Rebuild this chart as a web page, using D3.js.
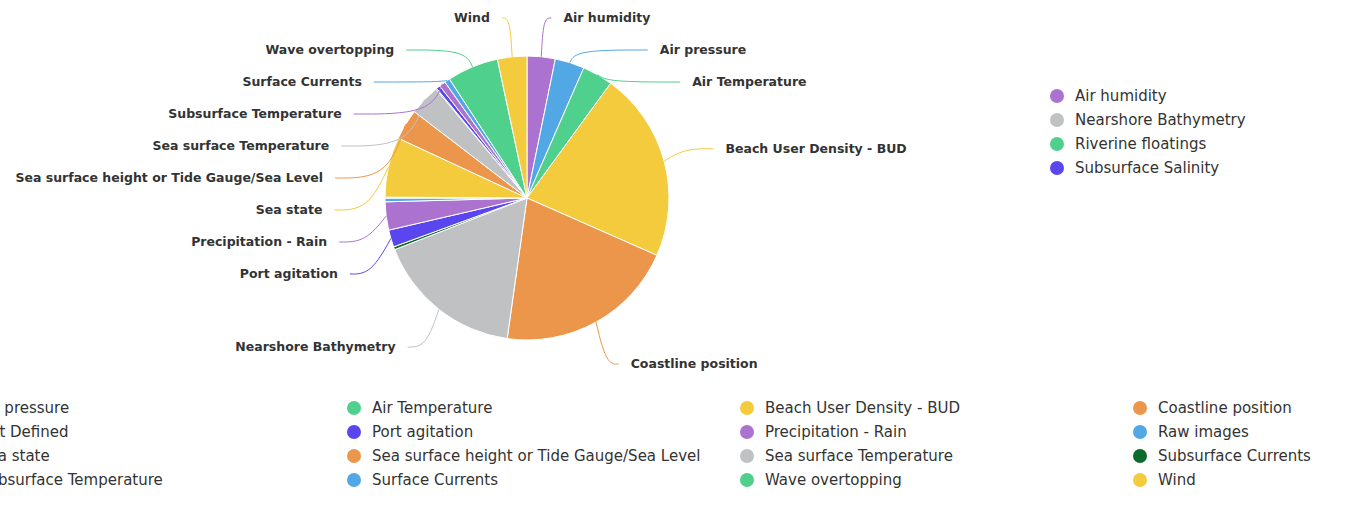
<!DOCTYPE html>
<html>
<head>
<meta charset="utf-8">
<script src="https://cdn.jsdelivr.net/npm/d3@7"></script>
<style>
  body { margin: 0; background: #fff; overflow: hidden; }
  text { font-family: "DejaVu Sans", sans-serif; }
</style>
</head>
<body>
<script>
// data (share of the pie, in degrees roughly)
const categories = [
  "Air humidity", "Air pressure", "Air Temperature", "Beach User Density - BUD", "Coastline position",
  "Nearshore Bathymetry", "Not Defined", "Port agitation", "Precipitation - Rain", "Raw images",
  "Riverine floatings", "Sea state", "Sea surface height or Tide Gauge/Sea Level", "Sea surface Temperature", "Subsurface Currents",
  "Subsurface Salinity", "Subsurface Temperature", "Surface Currents", "Wave overtopping", "Wind"
];
const values = [
  11.5, 12, 12.5, 77.5, 74,
  60.5, 1.2, 7, 11.5, 1.5,
  0.4, 24.5, 12.5, 12.6, 0.4,
  1.6, 2.6, 2.2, 21, 12
];
const palette = ["#ab72cf", "#52a7e5", "#4fd18d", "#f3cb3d", "#ec964b", "#bfc1c3", "#0b6a2c", "#5a46ee"];
// slices whose label is not drawn on the pie
const hiddenLabels = ["Not Defined", "Raw images", "Riverine floatings", "Subsurface Currents", "Subsurface Salinity"];

const width = 1345;
const height = 505;
const cx = 527, cy = 198, radius = 142;

const svg = d3.select("body")
  .append("svg")
  .attr("width", width)
  .attr("height", height);

const color = d3.scaleOrdinal().domain(categories).range(palette);

const data = categories.map((c, i) => ({ name: c, value: values[i] }));

const pie = d3.pie().sort(null).value(d => d.value);
const arc = d3.arc().innerRadius(0).outerRadius(radius);
const arcs = pie(data);

const g = svg.append("g").attr("transform", `translate(${cx},${cy})`);

g.selectAll("path.slice")
  .data(arcs)
  .enter()
  .append("path")
  .attr("class", "slice")
  .attr("d", arc)
  .attr("fill", d => color(d.data.name))
  .attr("stroke", "#fff")
  .attr("stroke-width", 1);

// label layout
const rLine = 163;   // bend point of the label line
const rLabel = 190;  // natural label height
const rA = 178, rB = 184;  // ellipse the label ends follow
const len2 = 15, gap = 12, step = 32;

const labels = arcs.filter(d => !hiddenLabels.includes(d.data.name)).map(d => {
  const m = (d.startAngle + d.endAngle) / 2;
  return {
    arc: d,
    m: m,
    dir: Math.sin(m) >= 0 ? 1 : -1,
    y0: -rLabel * Math.cos(m)
  };
});

function dodge(items, minY, maxY) {
  items.sort((a, b) => a.y0 - b.y0);
  const groups = items.map(d => ({ items: [d], sum: d.y0 }));
  const place = grp => {
    const n = grp.items.length;
    grp.top = Math.max(minY, Math.min(maxY - (n - 1) * step, grp.sum / n - (n - 1) * step / 2));
  };
  groups.forEach(place);
  let merged = true;
  while (merged) {
    merged = false;
    for (let i = 1; i < groups.length; i++) {
      const a = groups[i - 1], b = groups[i];
      if (b.top < a.top + a.items.length * step) {
        a.items = a.items.concat(b.items);
        a.sum += b.sum;
        place(a);
        groups.splice(i, 1);
        merged = true;
        break;
      }
    }
  }
  groups.forEach(grp => grp.items.forEach((d, k) => { d.y = grp.top + k * step; }));
}

dodge(labels.filter(d => d.dir > 0), 18 - cy, 480 - cy);
dodge(labels.filter(d => d.dir < 0), 18 - cy, 480 - cy);

labels.forEach(d => {
  const p0 = [radius * Math.sin(d.m), -radius * Math.cos(d.m)];
  const p1 = [rLine * Math.sin(d.m), d.y];
  const dy = Math.abs(d.y);
  const t = 1 - dy * dy / (rB * rB);
  const ex = t > 0.05 ? rA * Math.sqrt(t) + len2 : Math.abs(p1[0]) + 8;
  const x2 = d.dir * Math.max(ex, Math.abs(p1[0]) + 8);
  d.points = [p0, p1, [x2, d.y]];
  d.tx = x2 + d.dir * gap;
});

const line = d3.line().curve(d3.curveBasis);

g.selectAll("path.label-line")
  .data(labels)
  .enter()
  .append("path")
  .attr("class", "label-line")
  .attr("d", d => line(d.points))
  .attr("fill", "none")
  .attr("stroke", d => color(d.arc.data.name))
  .attr("stroke-width", 1);

g.selectAll("text.label")
  .data(labels)
  .enter()
  .append("text")
  .attr("class", "label")
  .attr("x", d => d.tx)
  .attr("y", d => d.y)
  .attr("dy", "0.35em")
  .attr("text-anchor", d => d.dir > 0 ? "start" : "end")
  .attr("font-size", "12.5px")
  .attr("font-weight", "bold")
  .attr("fill", "#333")
  .text(d => d.arc.data.name);

// legend: 5 columns, row major; first column sits at the right of the pie
const legendCols = 5;
const legend = svg.append("g").attr("class", "legend");

const item = legend.selectAll("g")
  .data(categories)
  .enter()
  .append("g")
  .attr("transform", (d, i) => {
    const col = i % legendCols;
    const row = Math.floor(i / legendCols);
    if (col === 0) return `translate(1057, ${96 + row * 24})`;
    return `translate(${-39 + (col - 1) * 393}, ${408 + row * 24})`;
  });

item.append("circle")
  .attr("r", 7)
  .attr("fill", d => color(d));

item.append("text")
  .attr("x", 18)
  .attr("dy", "0.35em")
  .attr("font-size", "15px")
  .attr("fill", "#333")
  .text(d => d);
</script>
</body>
</html>
